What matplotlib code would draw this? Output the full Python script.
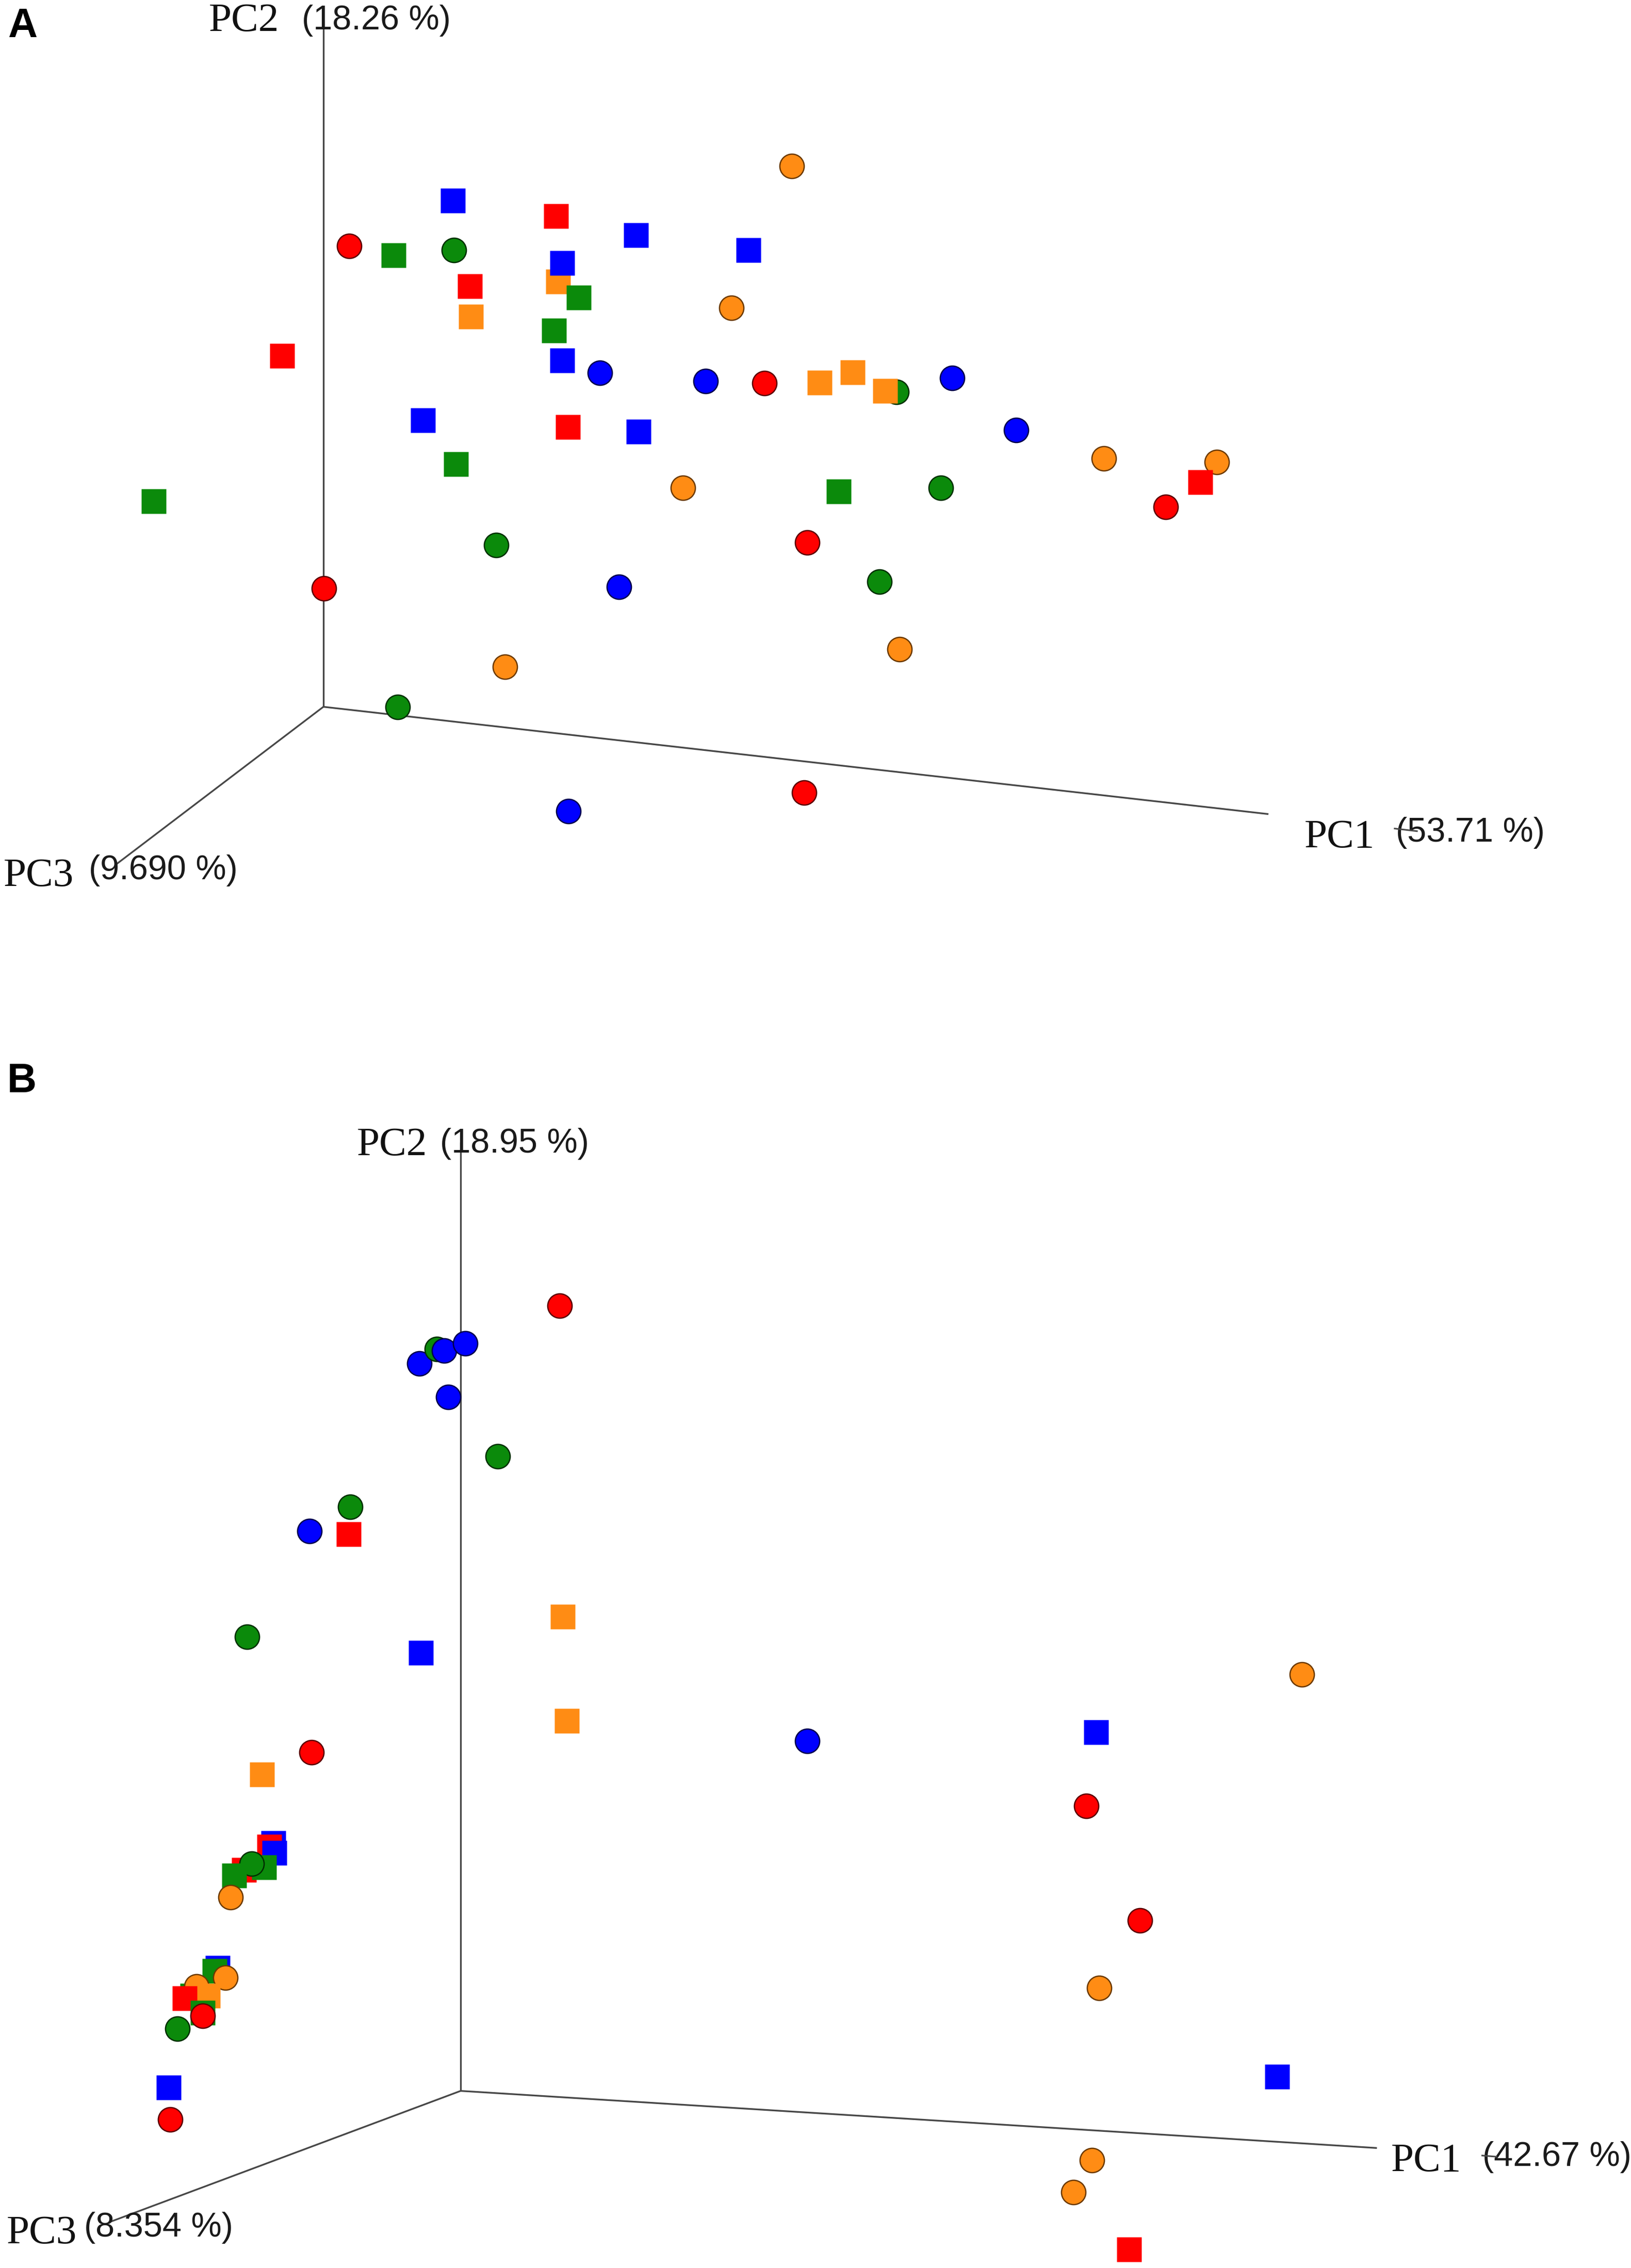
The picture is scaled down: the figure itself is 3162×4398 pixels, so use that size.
import matplotlib
matplotlib.use("Agg")
import matplotlib.pyplot as plt

# ---------------- data (projected PCoA positions, image units) ----------------
# Panel A
a_x = [547.5, 313.0, 384.6, 439.6, 517.5, 241.3, 272.2, 313.7, 385.7, 388.6,
       400.3, 325.0, 325.7, 383.2, 505.8, 195.0, 388.6, 414.8, 488.0, 528.7,
       620.0, 566.7, 589.4, 612.0, 658.2, 702.4, 763.3, 841.2, 829.8, 806.0,
       292.6, 392.7, 441.4, 315.1, 472.3, 106.3, 579.9, 650.6, 343.0, 558.0,
       428.0, 607.9, 224.0, 349.0, 621.9, 275.0, 393.0, 556.1]
a_y = [115.0, 138.7, 149.6, 162.8, 172.8, 170.0, 176.7, 172.8, 194.9, 181.9,
       205.8, 197.9, 218.8, 228.6, 213.0, 246.0, 249.3, 257.7, 263.4, 265.0,
       271.0, 264.8, 257.6, 270.2, 261.4, 297.5, 317.0, 319.7, 333.3, 350.4,
       290.6, 295.2, 298.4, 321.1, 337.3, 346.8, 339.8, 337.4, 377.0, 375.3,
       406.0, 402.3, 407.0, 461.0, 449.0, 489.0, 561.0, 548.0]
a_group = ["orange", "blue", "red", "blue", "blue", "red", "green", "green", "orange", "blue",
           "green", "red", "orange", "green", "orange", "red", "blue", "blue", "blue", "red",
           "green", "orange", "orange", "orange", "blue", "blue", "orange", "orange", "red", "red",
           "blue", "red", "blue", "green", "orange", "green", "green", "green", "green", "red",
           "blue", "green", "red", "orange", "orange", "green", "blue", "red"]
a_shape = ["o", "s", "s", "s", "s", "o", "s", "o", "s", "s",
           "s", "s", "s", "s", "o", "s", "s", "o", "o", "o",
           "o", "s", "s", "s", "o", "o", "o", "o", "s", "o",
           "s", "s", "s", "s", "o", "s", "s", "o", "o", "o",
           "o", "o", "o", "o", "o", "o", "o", "o"]

# Panel B
b_x = [387.0, 290.0, 302.0, 307.0, 321.7, 310.0, 344.0, 242.0, 241.0, 214.0,
       171.0, 291.0, 389.0, 392.0, 215.5, 181.0, 168.7, 189.0, 186.3, 189.6,
       182.6, 174.0, 162.0, 159.5, 150.4, 148.5, 155.7, 133.0, 136.0, 143.8,
       127.8, 140.0, 140.0, 122.7, 116.7, 117.7, 558.0, 900.0, 758.0, 751.0,
       788.0, 760.0, 883.0, 755.0, 742.0, 780.6]
b_y = [903.0, 943.0, 933.0, 934.0, 929.0, 966.0, 1007.0, 1042.0, 1061.0, 1059.0,
       1132.0, 1143.0, 1118.0, 1190.0, 1212.0, 1227.0, 1293.0, 1274.6, 1277.0, 1281.3,
       1291.5, 1289.0, 1297.0, 1312.0, 1361.0, 1363.0, 1367.7, 1380.0, 1373.6, 1380.0,
       1382.0, 1392.0, 1394.0, 1403.0, 1443.7, 1465.7, 1204.0, 1158.0, 1198.0, 1249.0,
       1328.0, 1375.0, 1436.0, 1494.0, 1516.0, 1555.5]
b_group = ["red", "blue", "green", "blue", "blue", "blue", "green", "green", "red", "blue",
           "green", "blue", "orange", "orange", "red", "orange", "red", "blue", "red", "blue",
           "green", "green", "green", "orange", "blue", "green", "orange", "green", "orange", "orange",
           "red", "green", "red", "green", "blue", "red", "blue", "orange", "blue", "red",
           "red", "orange", "blue", "orange", "orange", "red"]
b_shape = ["o", "o", "o", "o", "o", "o", "o", "o", "s", "o",
           "o", "s", "s", "s", "o", "s", "s", "s", "s", "s",
           "s", "o", "s", "o", "s", "s", "o", "s", "o", "s",
           "s", "s", "o", "o", "s", "o", "o", "o", "s", "o",
           "o", "o", "s", "o", "o", "s"]

# Axis frames: origin, PC2 top, PC1 end, PC3 end
a_axes = {"origin": (223.6, 488.8), "pc2": (223.6, 14.0), "pc1": (877.0, 563.0), "pc3": (80.0, 598.0)}
b_axes = {"origin": (318.5, 1446.0), "pc2": (318.5, 790.0), "pc1": (952.0, 1485.5), "pc3": (75.0, 1537.0)}

# Axis labels: (name, percent text)
a_labels = [("PC2", "(18.26 %)"), ("PC1", "(53.71 %)"), ("PC3", "(9.690 %)")]
b_labels = [("PC2", "(18.95 %)"), ("PC1", "(42.67 %)"), ("PC3", "(8.354 %)")]

# ---------------- style ----------------
S = 2.804
W, H = 3162, 4398
fill = {"red": "#ff0000", "blue": "#0000ff", "green": "#0b8a0b", "orange": "#ff8c14"}
edge = {"red": "#5a0000", "blue": "#00004a", "green": "#002e00", "orange": "#6a3800"}
MS = 34

fig = plt.figure(figsize=(W / 100, H / 100), dpi=100)
ax = fig.add_axes([0, 0, 1, 1])
ax.set_xlim(0, W / S)
ax.set_ylim(H / S, 0)
ax.axis("off")

serif = "Liberation Serif"
sans = "Liberation Sans"
line_kw = dict(color="#474747", lw=2.4, zorder=1, solid_capstyle="butt")


def draw_frame(fr, tick):
    ox, oy = fr["origin"]
    for k in ("pc2", "pc1", "pc3"):
        ex, ey = fr[k]
        ax.plot([ox, ex], [oy, ey], **line_kw)
    # small stroke of the PC1 axis showing through the label's bracket
    (x0, y0), (x1, y1) = tick
    ax.plot([x0, x1], [y0, y1], color="#474747", lw=2.2, zorder=300)


def draw_points(xs, ys, groups, shapes):
    for i, (x, y, g, m) in enumerate(zip(xs, ys, groups, shapes)):
        if m == "o":
            ax.plot([x], [y], marker="o", ms=MS, mfc=fill[g], mec=edge[g], mew=1.8,
                    ls="none", zorder=10 + i)
        else:
            ax.plot([x], [y], marker="s", ms=MS, mfc=fill[g], mec="none",
                    ls="none", zorder=10 + i)


def draw_labels(labels, pos):
    for (name, pct), ((nx, ny), (px, py)) in zip(labels, pos):
        ax.text(nx, ny, name, family=serif, fontsize=57, ha="left", va="baseline",
                color="#111111", zorder=200)
        ax.text(px, py, pct, family=sans, fontsize=48, ha="left", va="baseline",
                color="#1a1a1a", zorder=200)


draw_frame(a_axes, ((964.3, 573.0), (979.7, 574.8)))
draw_points(a_x, a_y, a_group, a_shape)
draw_labels(a_labels, [((144.4, 21.4), (208.6, 20.3)),
                       ((901.9, 586.0), (965.0, 582.0)),
                       ((2.5, 612.7), (61.3, 608.0))])

draw_frame(b_axes, ((1024.8, 1490.7), (1034.6, 1491.5)))
draw_points(b_x, b_y, b_group, b_shape)
draw_labels(b_labels, [((246.8, 798.9), (304.2, 797.0)),
                       ((961.8, 1501.4), (1025.0, 1497.9)),
                       ((4.6, 1551.4), (58.1, 1546.7))])

ax.text(5.5, 25.7, "A", family=sans, fontweight="bold", fontsize=57, ha="left",
        va="baseline", color="black")
ax.text(5.0, 755.3, "B", family=sans, fontweight="bold", fontsize=57, ha="left",
        va="baseline", color="black")

fig.savefig("out.png", dpi=100, facecolor="white")
